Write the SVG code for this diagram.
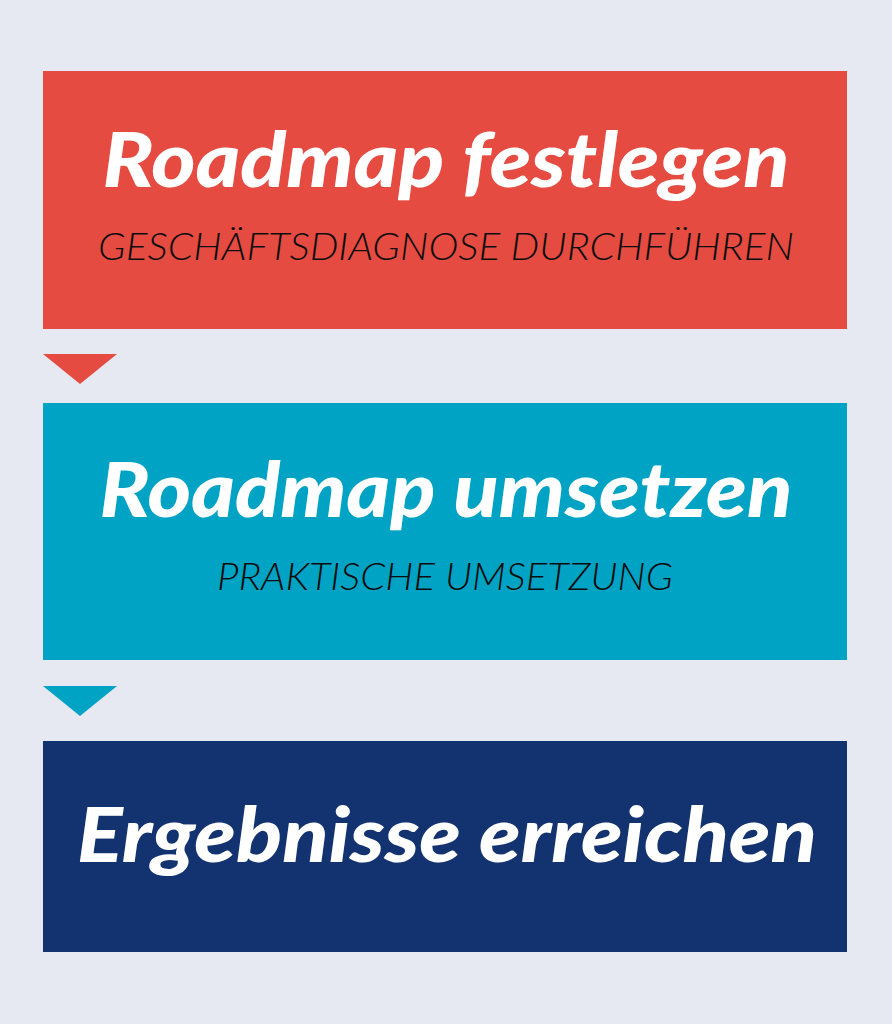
<svg xmlns="http://www.w3.org/2000/svg" width="892" height="1024" viewBox="0 0 892 1024">
<style>
.title{font-family:Lato,"Open Sans","Liberation Sans",sans-serif;font-weight:900;font-style:italic;font-size:77px;fill:#ffffff}
.sub{font-family:Lato,"Open Sans","Liberation Sans",sans-serif;font-weight:300;font-style:italic;font-size:38px;fill:#0d0d0d}
</style>
<rect x="0" y="0" width="892" height="1024" fill="#E6E9F1"/>
<g id="connectors">
<polygon points="43,354 117,354 80,384" fill="#E54B40"/>
<polygon points="43,686 117,686 80,716" fill="#00A3C4"/>
</g>
<g id="node1">
<rect x="43" y="71" width="804" height="258" fill="#E54B40"/>
<text class="title" x="446" y="187" text-anchor="middle" textLength="687" lengthAdjust="spacingAndGlyphs">Roadmap festlegen</text>
<text class="sub" x="446" y="260" text-anchor="middle" textLength="696" lengthAdjust="spacingAndGlyphs">GESCHÄFTSDIAGNOSE DURCHFÜHREN</text>
</g>
<g id="node2">
<rect x="43" y="403" width="804" height="257" fill="#00A3C4"/>
<text class="title" x="446" y="517" text-anchor="middle" textLength="693" lengthAdjust="spacingAndGlyphs">Roadmap umsetzen</text>
<text class="sub" x="445" y="590" text-anchor="middle" textLength="456" lengthAdjust="spacingAndGlyphs">PRAKTISCHE UMSETZUNG</text>
</g>
<g id="node3">
<rect x="43" y="741" width="804" height="211" fill="#133270"/>
<text class="title" x="447" y="862" text-anchor="middle" textLength="740" lengthAdjust="spacingAndGlyphs">Ergebnisse erreichen</text>
</g>
</svg>
